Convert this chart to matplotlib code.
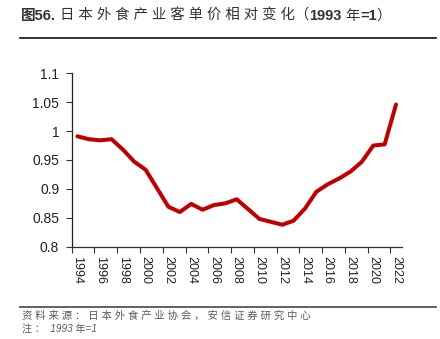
import numpy as np
import matplotlib
matplotlib.use("Agg")
import matplotlib.pyplot as plt
from matplotlib.lines import Line2D
from matplotlib.text import Annotation

plt.rcParams['font.family'] = ['Liberation Sans', 'Noto Sans CJK SC', 'DejaVu Sans']

# data
years = np.arange(1994, 2023)
values = [0.991, 0.986, 0.984, 0.986, 0.968, 0.947, 0.933, 0.901, 0.869, 0.860,
          0.874, 0.864, 0.872, 0.875, 0.882, 0.865, 0.848, 0.843, 0.838, 0.845,
          0.866, 0.895, 0.908, 0.918, 0.930, 0.947, 0.975, 0.977, 1.046]
label_years = years[::2]
yticks = [0.8, 0.85, 0.9, 0.95, 1.0, 1.05, 1.1]
ytick_labels = ['0.8', '0.85', '0.9', '0.95', '1', '1.05', '1.1']

# title pieces: (text, bold)
title_parts = [('图56.', True), (' 日 本 外 食 产 业 客 单 价 相 对 变 化（', False),
               ('1993', True), (' 年', False), ('=1', True), ('）', False)]
source = '资 料 来 源 ： 日 本 外 食 产 业 协 会 ， 安 信 证 券 研 究 中 心'
note = '注 ：  1993 年=1'

fig = plt.figure(figsize=(4.4, 3.39), dpi=100)
ax = fig.add_axes([0.163, 0.2723, 0.750, 0.5115])

ax.plot(years, values, color='#C00000', lw=2.9, solid_joinstyle='round',
        solid_capstyle='round')

ax.set_xlim(years[0] - 0.5, years[-1] + 0.5)
ax.set_ylim(0.8, 1.1)

# ticks between categories, labels on categories
ax.set_xticks(np.arange(years[0] - 0.5, years[-1] + 0.5, 2))
ax.set_xticklabels([])
ax.set_xticks(label_years, minor=True)
ax.set_xticklabels([str(y) for y in label_years], minor=True, rotation=-90,
                   fontsize=9, color='#222222')
ax.tick_params(axis='x', which='major', direction='out', length=4, width=0.8,
               color='#333333')
ax.tick_params(axis='x', which='minor', length=0, pad=7)

ax.set_yticks(yticks)
ax.set_yticklabels(ytick_labels, fontsize=10, color='#222222')
ax.tick_params(axis='y', direction='out', length=4, width=0.8, pad=5,
               color='#333333')

for s in ['top', 'right']:
    ax.spines[s].set_visible(False)
ax.spines['left'].set_color('#222222')
ax.spines['bottom'].set_color('#333333')
ax.spines['left'].set_linewidth(0.9)
ax.spines['bottom'].set_linewidth(0.9)

# title, chained piece by piece (mixed weights)
last = fig.text(0.048, 0.953, title_parts[0][0], fontsize=10.5, fontweight='bold',
                color='#333333', va='center', ha='left')
for txt, bold in title_parts[1:]:
    last = fig.add_artist(Annotation(
        txt, xy=(1, 0.5), xycoords=last, va='center', ha='left',
        fontsize=10.5 if bold else 10.4,
        fontweight='bold' if bold else 'normal', color='#333333'))

fig.add_artist(Line2D([0.045, 0.99], [0.889, 0.889], color='#222222', lw=1.3,
                      transform=fig.transFigure))
fig.add_artist(Line2D([0.045, 0.99], [0.095, 0.095], color='#555555', lw=1.3,
                      transform=fig.transFigure))
fig.text(0.05, 0.068, source, fontsize=7.5, color='#5a5a5a', va='center',
         ha='left', style='italic')
fig.text(0.05, 0.031, note, fontsize=7.2, color='#5a5a5a', va='center',
         ha='left', style='italic')

fig.savefig('out.png', dpi=100)
